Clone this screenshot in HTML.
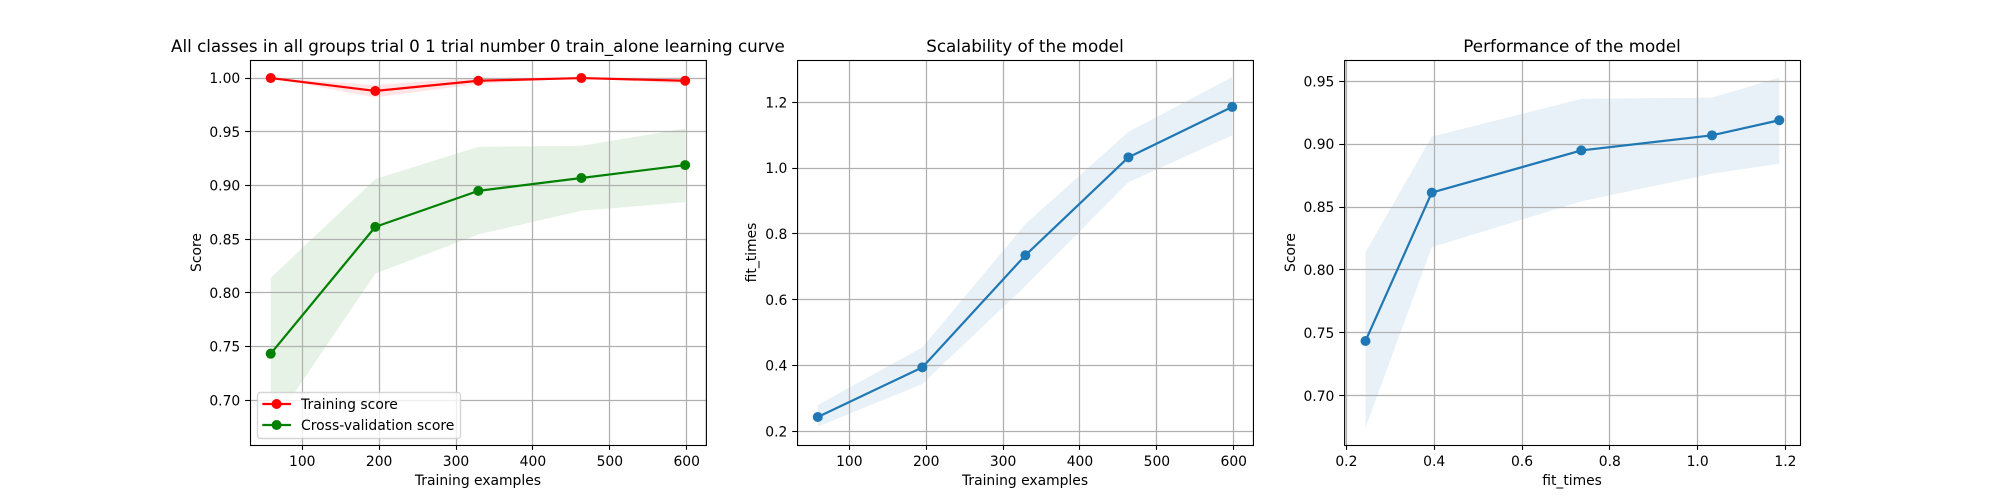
<!DOCTYPE html>
<html lang="en">
<head>
<meta charset="utf-8">
<title>Learning curve charts</title>
<style>
html,body{margin:0;padding:0;background:#fff;width:2000px;height:500px;overflow:hidden}
svg{display:block}
text{font-family:"DejaVu Sans","Liberation Sans",sans-serif;fill:#000}
</style>
</head>
<body>
<svg id="fig" xmlns="http://www.w3.org/2000/svg" width="2000" height="500" viewBox="0 0 2000 500"></svg>
<script>
// Data
const trainSizes = [59, 195, 329, 463, 598];
const trainMean = [1.0, 0.988, 0.9975, 1.0, 0.9975];
const trainLower = [1.0, 0.982, 0.9945, 1.0, 0.9945];
const trainUpper = [1.0, 0.9935, 1.0005, 1.0, 1.0005];
const cvMean = [0.7435, 0.8615, 0.895, 0.907, 0.919];
const cvLower = [0.6745, 0.818, 0.8545, 0.8765, 0.8845];
const cvUpper = [0.814, 0.906, 0.936, 0.937, 0.953];
const fitTimeMean = [0.2435, 0.3945, 0.735, 1.0328, 1.186];
const fitTimeLower = [0.214, 0.344, 0.642, 0.957, 1.10];
const fitTimeUpper = [0.28, 0.455, 0.83, 1.11, 1.277];
const sizeTicks = [100, 200, 300, 400, 500, 600];
const fitTimeTicks = [0.2, 0.4, 0.6, 0.8, 1.0, 1.2];
const scoreTicksA = [0.70, 0.75, 0.80, 0.85, 0.90, 0.95, 1.00];
const scoreTicksB = [0.70, 0.75, 0.80, 0.85, 0.90, 0.95];
const timeAxisTicks = [0.2, 0.4, 0.6, 0.8, 1.0, 1.2];
const sizeLimits = [32.05, 624.95];
const fitLimits = [0.1948, 1.2332];
const scoreLimitsA = [0.6585, 1.0168];
const scoreLimitsB = [0.6608, 0.9669];
const timeLimits = [0.1584, 1.3286];

const NS = 'http://www.w3.org/2000/svg';
const fig = document.getElementById('fig');
const TOP = 60, BOTTOM = 445;

function add(parent, tag, props) {
  const el = document.createElementNS(NS, tag);
  for (const k in props) el.setAttribute(k, props[k]);
  parent.appendChild(el);
  return el;
}
function scale(domain, a, b) {
  return v => a + (v - domain[0]) / (domain[1] - domain[0]) * (b - a);
}
function snap(v) { return Math.floor(v) + 0.5; }

function drawBand(g, xs, lo, hi, sx, sy, color, name) {
  let pts = [];
  xs.forEach((x, i) => pts.push(sx(x).toFixed(2) + ',' + sy(hi[i]).toFixed(2)));
  for (let i = xs.length - 1; i >= 0; i--) pts.push(sx(xs[i]).toFixed(2) + ',' + sy(lo[i]).toFixed(2));
  const band = add(g, 'polygon', {points: pts.join(' '), fill: color, 'fill-opacity': 0.1, stroke: 'none'});
  
  
}
function drawLine(g, xs, ys, sx, sy, color, name) {
  const pts = xs.map((x, i) => sx(x).toFixed(2) + ',' + sy(ys[i]).toFixed(2)).join(' ');
  const line = add(g, 'polyline', {points: pts, fill: 'none', stroke: color, 'stroke-width': 2.2, 'stroke-linejoin': 'round'});
  
  
  xs.forEach((x, i) => {
    const dot = add(g, 'circle', {cx: sx(x).toFixed(2), cy: sy(ys[i]).toFixed(2), r: 5, fill: color});
    
    
  });
}

function drawAxes(cfg) {
  const L = cfg.left, R = cfg.right;
  const sx = scale(cfg.xlim, L, R);
  const sy = scale(cfg.ylim, BOTTOM, TOP);
  const g = add(fig, 'g', {});
  
  

  const bg = add(g, 'rect', {x: L, y: TOP, width: R - L, height: BOTTOM - TOP, fill: '#fff'});
  
  

  cfg.bands(g, sx, sy);

  cfg.xticks.forEach(t => {
    const x = snap(sx(t));
    const gl = add(g, 'line', {x1: x, x2: x, y1: TOP, y2: BOTTOM, stroke: '#b0b0b0', 'stroke-width': 1.25});
    
    
    const tk = add(g, 'line', {x1: x, x2: x, y1: BOTTOM, y2: BOTTOM + 4.86, stroke: '#000', 'stroke-width': 1.11});
    
    
    const lb = add(g, 'text', {x: sx(t).toFixed(2), y: 466, 'font-size': 13.89, 'text-anchor': 'middle'});
    lb.textContent = t.toFixed(cfg.xdec);
    
    
  });
  cfg.yticks.forEach(t => {
    const y = snap(sy(t));
    const gl = add(g, 'line', {x1: L, x2: R, y1: y, y2: y, stroke: '#b0b0b0', 'stroke-width': 1.25});
    
    
    const tk = add(g, 'line', {x1: L - 4.86, x2: L, y1: y, y2: y, stroke: '#000', 'stroke-width': 1.11});
    
    
    const lb = add(g, 'text', {x: L - 9.72, y: (sy(t) + 5.05).toFixed(2), 'font-size': 13.89, 'text-anchor': 'end'});
    lb.textContent = t.toFixed(cfg.ydec);
    
    
  });

  cfg.lines(g, sx, sy);

  if (cfg.legend) cfg.legend(g);

  const frame = add(g, 'rect', {x: L + 0.5, y: TOP + 0.5, width: R - L, height: BOTTOM - TOP, fill: 'none', stroke: '#000', 'stroke-width': 1.11});
  
  

  const title = add(g, 'text', {x: (L + R) / 2, y: 52, 'font-size': 16.73, 'text-anchor': 'middle'});
  title.textContent = cfg.title;
  
  

  const xl = add(g, 'text', {x: (L + R) / 2, y: 485, 'font-size': 13.89, 'text-anchor': 'middle'});
  xl.textContent = cfg.xlabel;
  
  

  const ym = (TOP + BOTTOM) / 2;
  const yl = add(g, 'text', {x: cfg.ylabelX, y: ym, 'font-size': 13.89, 'text-anchor': 'middle', transform: 'rotate(-90 ' + cfg.ylabelX + ' ' + ym + ')'});
  yl.textContent = cfg.ylabel;
  
  
}

function drawLegend(g) {
  const box = add(g, 'g', {});
  
  
  const bg = add(box, 'rect', {x: 257.5, y: 392.5, width: 203, height: 46, rx: 2.8, ry: 2.8, fill: '#fff', 'fill-opacity': 0.8, stroke: '#ccc', 'stroke-opacity': 0.8, 'stroke-width': 1.39});
  
  
  const rows = [['Training score', 'red', 404], ['Cross-validation score', 'green', 425]];
  rows.forEach(r => {
    const entry = add(box, 'g', {});
    
    
    add(entry, 'line', {x1: 262.3, x2: 291, y1: r[2], y2: r[2], stroke: r[1], 'stroke-width': 2.2});
    add(entry, 'circle', {cx: 276.6, cy: r[2], r: 5, fill: r[1]});
    const t = add(entry, 'text', {x: 301, y: r[2] + 5, 'font-size': 13.95});
    t.textContent = r[0];
  });
}

const W = 455.88;
drawAxes({
  name: 'learning-curve-chart', left: 250, right: 250 + W,
  xlim: sizeLimits, ylim: scoreLimitsA, xticks: sizeTicks, yticks: scoreTicksA, xdec: 0, ydec: 2,
  title: 'All classes in all groups trial 0 1 trial number 0 train_alone learning curve',
  xlabel: 'Training examples', ylabel: 'Score', ylabelX: 201,
  bands(g, sx, sy) {
    drawBand(g, trainSizes, trainLower, trainUpper, sx, sy, 'red', 'training-score-band');
    drawBand(g, trainSizes, cvLower, cvUpper, sx, sy, 'green', 'cv-score-band');
  },
  lines(g, sx, sy) {
    drawLine(g, trainSizes, trainMean, sx, sy, 'red', 'training-score');
    drawLine(g, trainSizes, cvMean, sx, sy, 'green', 'cv-score');
  },
  legend: drawLegend
});
drawAxes({
  name: 'scalability-chart', left: 797.06, right: 797.06 + W,
  xlim: sizeLimits, ylim: timeLimits, xticks: sizeTicks, yticks: timeAxisTicks, xdec: 0, ydec: 1,
  title: 'Scalability of the model',
  xlabel: 'Training examples', ylabel: 'fit_times', ylabelX: 756,
  bands(g, sx, sy) {
    drawBand(g, trainSizes, fitTimeLower, fitTimeUpper, sx, sy, '#1f77b4', 'fit-time-band');
  },
  lines(g, sx, sy) {
    drawLine(g, trainSizes, fitTimeMean, sx, sy, '#1f77b4', 'fit-time');
  }
});
drawAxes({
  name: 'performance-chart', left: 1344.12, right: 1800,
  xlim: fitLimits, ylim: scoreLimitsB, xticks: fitTimeTicks, yticks: scoreTicksB, xdec: 1, ydec: 2,
  title: 'Performance of the model',
  xlabel: 'fit_times', ylabel: 'Score', ylabelX: 1295,
  bands(g, sx, sy) {
    drawBand(g, fitTimeMean, cvLower, cvUpper, sx, sy, '#1f77b4', 'performance-band');
  },
  lines(g, sx, sy) {
    drawLine(g, fitTimeMean, cvMean, sx, sy, '#1f77b4', 'performance');
  }
});
</script>
</body>
</html>
